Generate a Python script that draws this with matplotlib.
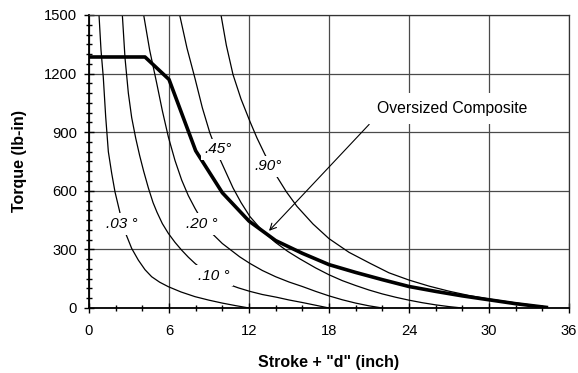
import numpy as np
import matplotlib
matplotlib.use('Agg')
import matplotlib.pyplot as plt
from matplotlib.ticker import MultipleLocator

plt.rcParams['font.family'] = ['Liberation Sans', 'DejaVu Sans']

# thin curves, one per misalignment angle
x03 = [0.75, 0.9, 1.07, 1.25, 1.45, 1.7, 1.95, 2.4, 2.8, 3.2, 3.7, 4.2, 4.7, 5.3, 5.95, 6.9, 7.95, 9.0, 10.0, 11.0, 12.0]
y03 = [1500, 1320, 1182, 980, 800, 690, 594, 465, 373, 305, 245, 196, 160, 132, 109, 82, 58, 40, 25, 12, 0]

x10 = [2.5, 2.7, 2.95, 3.2, 3.5, 3.8, 4.1, 4.45, 4.8, 5.1, 5.5, 5.95, 6.45, 6.95, 7.45, 7.95, 8.6, 9.3, 10.3, 11.2, 12.07, 13.0, 14.07, 15.0, 16.0, 17.0, 18.0]
y10 = [1500, 1280, 1100, 975, 870, 780, 700, 615, 540, 490, 432, 382, 336, 296, 260, 228, 192, 160, 125, 103, 85, 69, 55, 41, 28, 14, 0]

x20 = [4.1, 4.55, 5.08, 5.5, 5.95, 6.45, 6.95, 7.45, 7.95, 8.5, 9.07, 10.0, 11.3, 12.07, 13.0, 14.0, 15.0, 16.0, 17.0, 18.0, 19.0, 20.0, 21.0, 22.0]
y20 = [1500, 1320, 1150, 1010, 876, 755, 655, 575, 510, 445, 392, 330, 262, 228, 192, 160, 133, 110, 85, 62, 42, 25, 11, 0]

x45 = [6.8, 7.35, 7.95, 8.5, 9.07, 9.8, 10.8, 11.4, 12.07, 13.0, 14.0, 14.9, 15.8, 17.0, 18.0, 19.0, 20.0, 21.0, 22.0, 23.0, 24.0, 25.0, 26.0, 27.0, 28.0]
y45 = [1500, 1330, 1175, 1025, 895, 765, 615, 540, 468, 395, 335, 290, 252, 205, 170, 140, 115, 92, 72, 55, 40, 27, 16, 7, 0]

x90 = [9.9, 10.3, 10.8, 11.4, 12.07, 12.6, 13.2, 14.07, 14.8, 15.6, 16.8, 18.0, 19.5, 21.1, 22.5, 24.0, 25.5, 27.0, 28.5, 30.0, 31.0, 32.0, 33.0, 34.3]
y90 = [1500, 1345, 1195, 1070, 955, 870, 785, 675, 595, 520, 430, 355, 285, 228, 180, 143, 112, 86, 64, 46, 36, 26, 17, 4]

# oversized composite (thick line)
xc = [0, 4.2, 6.0, 8.0, 10.0, 12.0, 14.0, 16.0, 18.0, 20.0, 22.0, 24.0, 26.0, 28.0, 30.0, 32.0, 34.3]
yc = [1285, 1285, 1170, 805, 590, 445, 345, 280, 222, 182, 145, 110, 85, 62, 42, 22, 3]

curve_labels = ['.03 °', '.10 °', '.20 °', '.45°', '.90°']
label_pos = [(2.44, 430), (9.34, 164), (8.44, 430), (9.71, 813), (13.43, 726)]

fig = plt.figure(figsize=(5.78, 3.73), dpi=100)
ax = fig.add_axes([0.154, 0.1743, 0.8304, 0.7855])

for xs, ys in [(x03, y03), (x10, y10), (x20, y20), (x45, y45), (x90, y90)]:
    ax.plot(xs, ys, color='black', lw=0.9, zorder=2)
ax.plot(xc, yc, color='black', lw=2.6, zorder=3)

for lab, (lx, ly) in zip(curve_labels, label_pos):
    ax.text(lx, ly, lab, style='italic', fontsize=11, ha='center', va='center',
            zorder=4, bbox=dict(fc='white', ec='none', pad=2.5))

ax.annotate('Oversized Composite', xy=(13.5, 395), xytext=(21.6, 1021),
            fontsize=11.3, ha='left', va='center', zorder=5,
            bbox=dict(fc='white', ec='none', pad=6),
            arrowprops=dict(arrowstyle='->', color='black', lw=0.8,
                            relpos=(0, 0), shrinkA=0, shrinkB=0))

ax.set_xlim(0, 36)
ax.set_ylim(0, 1500)
ax.xaxis.set_major_locator(MultipleLocator(6))
ax.xaxis.set_minor_locator(MultipleLocator(2))
ax.yaxis.set_major_locator(MultipleLocator(300))
ax.yaxis.set_minor_locator(MultipleLocator(50))
ax.grid(True, which='major', color='#4a4a4a', lw=0.9)
ax.set_axisbelow(True)

ax.tick_params(which='both', direction='inout', top=False, right=False, width=1, labelsize=10.6)
ax.tick_params(which='major', length=7)
ax.tick_params(which='minor', length=5)
ax.tick_params(axis='x', pad=8)
ax.tick_params(axis='y', pad=5)

for s in ['left', 'bottom']:
    ax.spines[s].set_linewidth(1.3)
for s in ['top', 'right']:
    ax.spines[s].set_linewidth(0.9)
    ax.spines[s].set_color('#333333')

ax.set_xlabel('Stroke + "d" (inch)', fontsize=11.5, fontweight='bold', labelpad=12)
ax.set_ylabel('Torque (lb-in)', fontsize=11.5, fontweight='bold', labelpad=12)

fig.savefig('out.png', dpi=100)
